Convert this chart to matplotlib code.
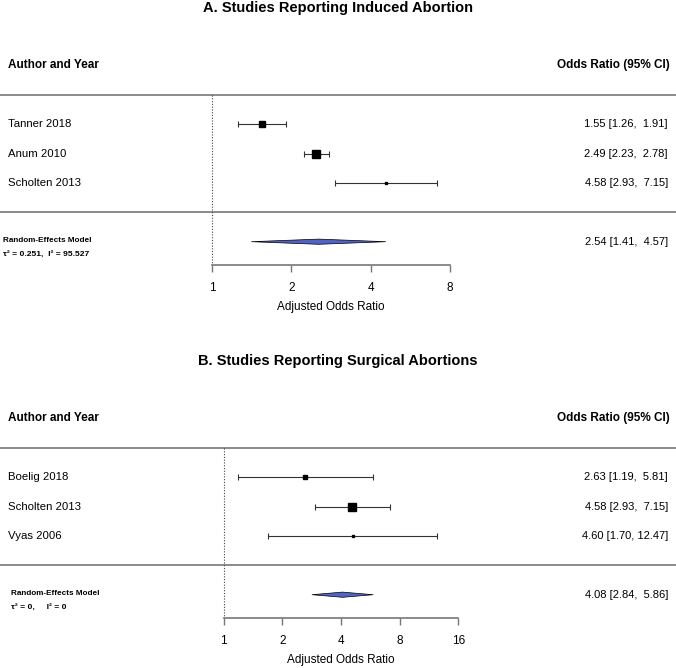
import numpy as np
import matplotlib.pyplot as plt
from matplotlib.patches import Polygon

# Panel A data
a_studies = ["Tanner 2018", "Anum 2010", "Scholten 2013"]
a_or = [1.55, 2.49, 4.58]
a_lo = [1.26, 2.23, 2.93]
a_hi = [1.91, 2.78, 7.15]
a_re = (2.54, 1.41, 4.57)
a_tau2 = 0.251
a_stats = "\u03c4\u00b2 = 0.251,  I\u00b2 = 95.527"
a_ticks = [1, 2, 4, 8]

# Panel B data
b_studies = ["Boelig 2018", "Scholten 2013", "Vyas 2006"]
b_or = [2.63, 4.58, 4.60]
b_lo = [1.19, 2.93, 1.70]
b_hi = [5.81, 7.15, 12.47]
b_re = (4.08, 2.84, 5.86)
b_tau2 = 0.0
b_stats = "\u03c4\u00b2 = 0,     I\u00b2 = 0"
b_ticks = [1, 2, 4, 8, 16]

plt.rcParams['font.family'] = ['Liberation Sans', 'DejaVu Sans']

W, H = 676, 668
fig = plt.figure(figsize=(W / 100, H / 100), dpi=100)


def box_sizes(lo, hi, tau2):
    # metafor-style: weights from CI width, rescaled to cex 0.5..1.5
    se = (np.log(hi) - np.log(lo)) / 3.92
    w = 1 / (se ** 2 + tau2)
    p = (w - w.min()) / (w.max() - w.min())
    return 0.5 + p


def panel(top, title, studies, est, lo, hi, re, tau2, stats, ticks, x1, px_per2, re_x):
    # each panel gets a transparent axes over the whole figure, y in pixels from panel top
    ax = fig.add_axes([0, 0, 1, 1])
    ax.patch.set_alpha(0)
    lo = np.array(lo); hi = np.array(hi); est = np.array(est)
    ax.set_xscale('log', base=2)
    ax.set_xlim(2 ** (-x1 / px_per2), 2 ** ((W - x1) / px_per2))
    ax.set_ylim(H - top, -top)
    for s in ['top', 'left', 'right']:
        ax.spines[s].set_visible(False)

    line1 = 95
    rows = line1 + 29.3 * np.arange(1, len(studies) + 1)
    line2 = line1 + 29.3 * (len(studies) + 1)
    re_y = line2 + 29.5
    axis_y = line2 + 53

    tr = ax.get_yaxis_transform()  # x in axes fraction, y in data
    ax.text(0.5, 8, title, transform=tr, ha='center', va='center',
            fontsize=10.5, fontweight='bold')
    ax.text(8 / W, line1 - 30, "Author and Year", transform=tr, ha='left', va='center',
            fontsize=8.5, fontweight='bold')
    ax.text(670 / W, line1 - 30, "Odds Ratio (95% CI)", transform=tr, ha='right', va='center',
            fontsize=8.5, fontweight='bold')

    for yy in (line1, line2):
        ax.plot([0, 1], [yy, yy], transform=tr, color='#777777', lw=1.2)
    ax.plot([1, 1], [line1, axis_y], color='#444444', lw=0.8, ls=(0, (1, 1.5)))

    sizes = box_sizes(lo, hi, tau2)
    for i, name in enumerate(studies):
        y = rows[i]
        ax.text(8 / W, y, name, transform=tr, ha='left', va='center', fontsize=8.2)
        ax.text(668 / W, y, f"{est[i]:.2f} [{lo[i]:.2f}, {hi[i]:>5.2f}]", transform=tr,
                ha='right', va='center', fontsize=8)
        ax.errorbar(est[i], y, xerr=[[est[i] - lo[i]], [hi[i] - est[i]]], fmt='none',
                    ecolor='#333333', elinewidth=0.8, capsize=2.2, capthick=0.8)
        ax.plot(est[i], y, 's', color='black', ms=(2.7 + (sizes[i] - 0.5) * 5.3) * 0.72)

    r_est, r_lo, r_hi = re
    dia = Polygon([(r_lo, re_y), (r_est, re_y - 2.6), (r_hi, re_y), (r_est, re_y + 2.6)],
                  closed=True, facecolor='#5163c4', edgecolor='black', lw=0.5)
    ax.add_patch(dia)
    ax.text(re_x / W, re_y - 1, "Random-Effects Model", transform=tr, ha='left', va='center',
            fontsize=5.9, fontweight='bold')
    ax.text(re_x / W, re_y + 13, stats, transform=tr, ha='left', va='center',
            fontsize=6.1, fontweight='bold')
    ax.text(668 / W, re_y, f"{r_est:.2f} [{r_lo:.2f}, {r_hi:>5.2f}]", transform=tr,
            ha='right', va='center', fontsize=8)

    ax.spines['bottom'].set_position(('data', axis_y))
    ax.spines['bottom'].set_bounds(ticks[0], ticks[-1])
    ax.spines['bottom'].set_color('#777777')
    ax.spines['bottom'].set_linewidth(1.2)
    ax.set_xticks(ticks)
    ax.set_xticklabels([str(t) for t in ticks])
    ax.xaxis.set_minor_locator(plt.NullLocator())
    ax.tick_params(axis='x', direction='out', length=5, width=1, color='#777777',
                   labelsize=8.5, pad=7)
    ax.set_yticks([])
    ax.text(2 ** ((np.log2(ticks[0]) + np.log2(ticks[-1])) / 2), axis_y + 42,
            "Adjusted Odds Ratio", ha='center', va='center', fontsize=8.5)


panel(0, "A. Studies Reporting Induced Abortion", a_studies, a_or, a_lo, a_hi,
      a_re, a_tau2, a_stats, a_ticks, 212, 79.3, 3)
panel(353, "B. Studies Reporting Surgical Abortions", b_studies, b_or, b_lo, b_hi,
      b_re, b_tau2, b_stats, b_ticks, 223.5, 58.7, 11)

fig.savefig("out.png", dpi=100)
